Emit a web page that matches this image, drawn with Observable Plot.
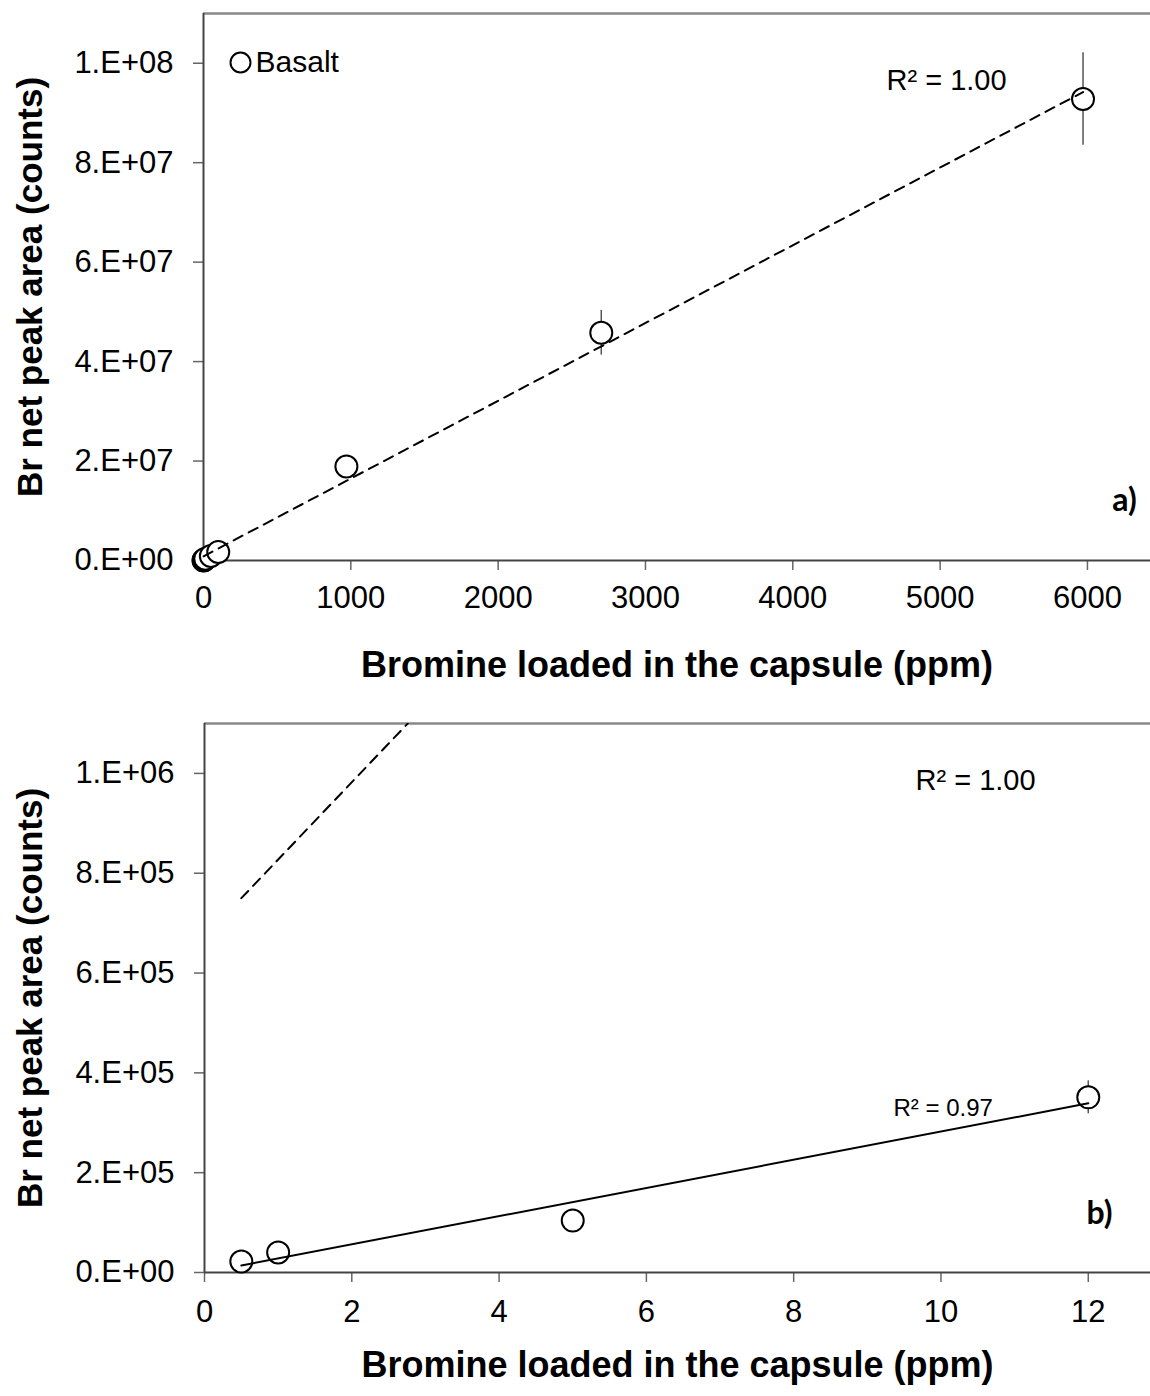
<!DOCTYPE html>
<html>
<head>
<meta charset="utf-8">
<script src="https://cdn.jsdelivr.net/npm/d3@7"></script>
<script src="https://cdn.jsdelivr.net/npm/@observablehq/plot@0.6"></script>
<style>
  html, body { margin: 0; padding: 0; background: white; }
  svg { display: block; }
</style>
</head>
<body>
<div id="chart"></div>
<script>
// ---- Data ----
const ppm    = [0.5, 1, 5, 12, 50, 100, 970, 2700, 5970];
const counts = [2.2e4, 4.0e4, 1.04e5, 3.51e5, 9.0e5, 1.7e6, 1.89e7, 4.58e7, 9.28e7];
const errs   = [0, 0, 0, 3.3e4, 0, 0, 0, 4.5e6, 9.3e6];

// fitted trend lines (endpoints)
const fitAx = [0.5, 5970];
const fitAy = [8.5e5, 9.42e7];
const fitBdashX = [0.5, 2.76];
const fitBdashY = [7.5e5, 1.1e6];
const fitBx = [0.5, 12];
const fitBy = [1.4e4, 3.39e5];

// ticks
const xTicksA = [0, 1000, 2000, 3000, 4000, 5000, 6000];
const yTicksA = [0, 2e7, 4e7, 6e7, 8e7, 1e8];
const yTickLabelsA = ["0.E+00", "2.E+07", "4.E+07", "6.E+07", "8.E+07", "1.E+08"];
const xTicksB = [0, 2, 4, 6, 8, 10, 12];
const yTicksB = [0, 2e5, 4e5, 6e5, 8e5, 1e6];
const yTickLabelsB = ["0.E+00", "2.E+05", "4.E+05", "6.E+05", "8.E+05", "1.E+06"];

// text
const xTitle = "Bromine loaded in the capsule (ppm)";
const yTitle = "Br net peak area (counts)";
const legendLabel = "Basalt";
const r2A = "R² = 1.00";
const r2Bdash = "R² = 1.00";
const r2B = "R² = 0.97";

const points = ppm.map((x, i) => ({x, y: counts[i], e: errs[i]}));
const toLine = (xs, ys) => xs.map((x, i) => ({x, y: ys[i]}));

const FONT = "'Liberation Sans', Arial, sans-serif";
const style = {fontFamily: FONT, fontSize: "31px", color: "black", background: "white", overflow: "visible"};

function panel(o) {
  const pts = points.filter(d => d.x <= o.xMax);
  return Plot.plot({
    width: 1150, height: o.height,
    marginLeft: o.ml, marginRight: 0, marginTop: o.mt, marginBottom: o.mb,
    style,
    x: {domain: [0, o.xMax], axis: null},
    y: {domain: [0, o.yMax], axis: null},
    marks: [
      Plot.ruleY([o.yMax], {stroke: "#888", strokeWidth: 2.5}),
      Plot.axisY({ticks: o.yTicks, tickFormat: d => o.yLabels[o.yTicks.indexOf(d)], tickSize: 10, tickPadding: 20,
                  stroke: "#666", strokeWidth: 1.5, fill: "black", fontSize: 31, label: null}),
      Plot.axisX({ticks: o.xTicks, tickFormat: d => String(d), tickSize: 10, tickPadding: o.xpad,
                  stroke: "#666", strokeWidth: 1.5, fill: "black", fontSize: 31, label: null}),
      Plot.ruleX([0], {stroke: "#444", strokeWidth: 2}),
      Plot.ruleY([0], {stroke: "#444", strokeWidth: 2}),
      Plot.ruleX(pts.filter(d => d.e > 0), {x: "x", y1: d => d.y - d.e, y2: d => d.y + d.e, stroke: "#555", strokeWidth: 1.5}),
      Plot.dot(pts, {x: "x", y: "y", r: 11, stroke: "black", fill: "white", strokeWidth: 2}),
      ...o.lines,
      Plot.text([yTitle], {frameAnchor: "left", dx: 30 - o.ml, rotate: -90, textAnchor: "middle", lineAnchor: "middle",
                           fontWeight: "bold", fontSize: 35, fill: "black"}),
      Plot.text([xTitle], {frameAnchor: "bottom", dy: o.xTitleDy, textAnchor: "middle", lineAnchor: "middle",
                           fontWeight: "bold", fontSize: 36, fill: "black"}),
      ...o.texts
    ]
  });
}

const txt = (s, dx, dy, extra) => Plot.text([s], Object.assign({frameAnchor: "top-left", dx, dy, textAnchor: "start", lineAnchor: "middle", fill: "black"}, extra));

const svgA = panel({
  height: 690, ml: 203, mt: 13, mb: 130, xMax: 6428, yMax: 1.1e8,
  xTicks: xTicksA, yTicks: yTicksA, yLabels: yTickLabelsA, xpad: 15, xTitleDy: 105,
  lines: [
    Plot.line(toLine(fitAx, fitAy), {x: "x", y: "y", stroke: "black", strokeWidth: 2, strokeDasharray: "10,7"})
  ],
  texts: [
    Plot.dot([legendLabel], {frameAnchor: "top-left", dx: 37, dy: 49, r: 10, stroke: "black", fill: "white", strokeWidth: 2}),
    txt(legendLabel, 52, 49, {fontSize: 30}),
    txt(r2A, 683, 67, {fontSize: 29}),
    txt("a)", 921, 487, {textAnchor: "middle", fontSize: 32, fontWeight: "bold", fontFamily: "Lato, sans-serif"})
  ]
});

const svgB = panel({
  height: 706, ml: 204, mt: 33, mb: 124, xMax: 12.845, yMax: 1.1e6,
  xTicks: xTicksB, yTicks: yTicksB, yLabels: yTickLabelsB, xpad: 17, xTitleDy: 93,
  lines: [
    Plot.line(toLine(fitBdashX, fitBdashY), {x: "x", y: "y", stroke: "black", strokeWidth: 2, strokeDasharray: "10,7", clip: true}),
    Plot.line(toLine(fitBx, fitBy), {x: "x", y: "y", stroke: "black", strokeWidth: 2})
  ],
  texts: [
    txt(r2Bdash, 711, 57, {fontSize: 29}),
    txt(r2B, 689, 385, {fontSize: 24}),
    txt("b)", 895, 490, {textAnchor: "middle", fontSize: 32, fontWeight: "bold", fontFamily: "Lato, sans-serif"})
  ]
});

const root = document.getElementById("chart");
root.appendChild(svgA);
root.appendChild(svgB);
</script>
</body>
</html>
